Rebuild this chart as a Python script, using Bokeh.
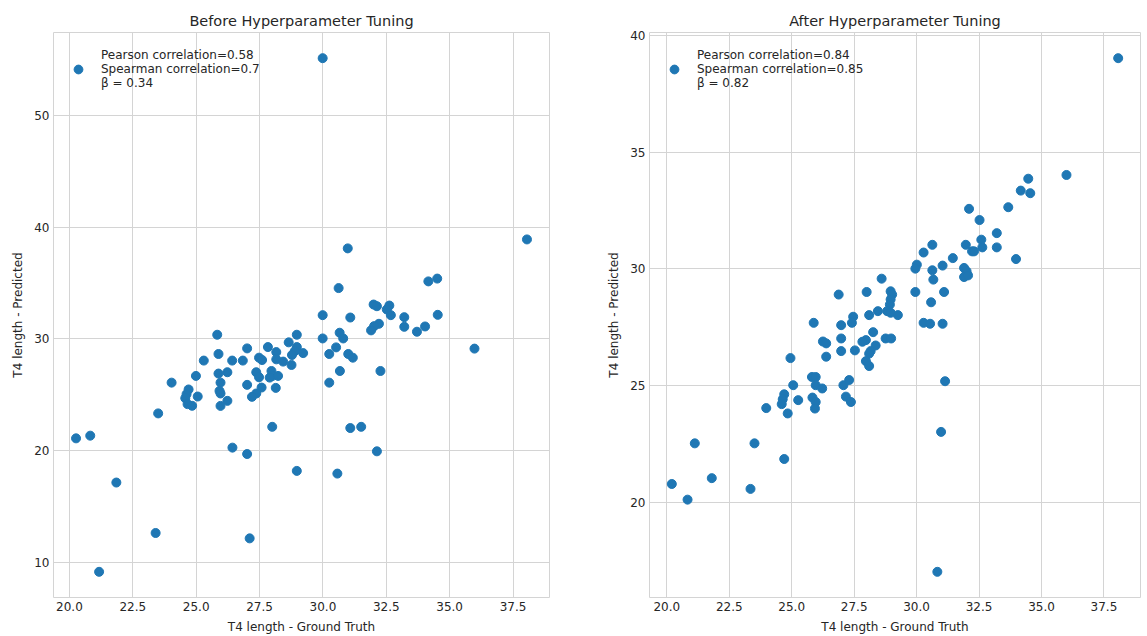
from bokeh.plotting import figure
from bokeh.layouts import row
from bokeh.models import Range1d, FixedTicker, NumeralTickFormatter, Legend, LegendItem
from bokeh.embed import file_html
from bokeh.resources import INLINE

# ---------------- data ----------------
before_truth = [38.05, 30.98, 30.62, 34.16, 34.51, 32.00, 32.13, 32.62, 32.52, 32.68,
                29.99, 31.08, 34.53, 33.21, 33.21, 34.03, 33.71, 32.21, 32.02, 31.90,
                30.66, 30.80, 29.99, 30.52, 30.25, 31.00, 31.18, 30.67, 32.27, 30.25,
                35.98, 25.83, 28.97, 28.65, 27.83, 27.01, 28.97, 28.89, 29.22, 28.78,
                28.16, 28.16, 28.43, 28.76, 27.48, 27.60, 26.84, 26.42, 25.88, 25.30,
                27.97, 28.01, 28.23, 27.90, 27.37, 27.48, 27.01, 28.14, 27.58, 27.37,
                27.20, 26.23, 25.88, 25.96, 25.92, 25.96, 26.23, 25.96, 24.99, 24.03,
                24.70, 24.62, 24.57, 25.06, 24.66, 24.84, 23.50, 20.26, 20.82, 28.00,
                31.08, 31.51, 26.43, 27.01, 32.13, 28.97, 30.57, 21.85, 23.40, 27.11,
                21.17, 29.99]
before_pred = [38.90, 38.10, 34.55, 35.15, 35.40, 33.08, 32.93, 32.99, 32.64, 32.13,
               32.13, 31.92, 32.16, 31.95, 31.09, 31.12, 30.65, 31.36, 31.15, 30.77,
               30.56, 30.05, 30.05, 29.25, 28.66, 28.66, 28.33, 27.14, 27.14, 26.10,
               29.14, 30.38, 30.38, 29.70, 29.28, 29.16, 29.28, 28.92, 28.74, 28.57,
               28.83, 28.18, 27.98, 27.68, 28.33, 28.12, 28.07, 28.07, 28.66, 28.07,
               27.14, 26.70, 26.70, 26.55, 27.03, 26.58, 25.90, 25.63, 25.66, 25.13,
               24.83, 27.03, 26.91, 26.10, 25.36, 25.13, 24.47, 24.02, 26.70, 26.10,
               25.49, 25.07, 24.71, 24.86, 24.18, 24.03, 23.35, 21.12, 21.36, 22.15,
               22.04, 22.15, 20.29, 19.72, 19.96, 18.21, 17.97, 17.17, 12.66, 12.18,
               9.19, 55.10]

after_truth = [38.07, 36.00, 34.47, 34.17, 34.55, 33.67, 32.10, 32.52, 33.21, 32.59,
               32.63, 33.21, 31.97, 32.22, 32.30, 33.98, 31.45, 30.63, 30.28, 30.01,
               29.95, 31.04, 30.63, 30.67, 31.90, 32.00, 31.90, 32.06, 28.60, 26.88,
               28.00, 28.96, 29.02, 28.96, 28.93, 29.95, 31.10, 30.58, 28.45, 28.82,
               28.96, 29.25, 28.10, 27.46, 27.41, 26.98, 30.28, 30.54, 31.04, 28.26,
               26.98, 27.97, 27.83, 28.76, 28.98, 28.36, 28.16, 28.10, 26.98, 27.53,
               27.97, 28.10, 25.88, 26.25, 26.38, 26.38, 24.95, 25.81, 25.96, 25.96,
               26.22, 25.06, 27.07, 27.30, 27.17, 27.37, 24.70, 24.64, 24.60, 25.26,
               25.83, 25.96, 25.93, 23.98, 24.84, 21.12, 23.51, 24.70, 20.20, 20.83,
               21.80, 23.35, 30.98, 30.83, 31.14]
after_pred = [39.02, 34.02, 33.86, 33.35, 33.24, 32.64, 32.57, 32.09, 31.53, 31.25,
              30.92, 30.92, 31.03, 30.75, 30.75, 30.42, 30.46, 31.03, 30.70, 30.18,
              30.01, 30.14, 29.94, 29.54, 30.04, 29.90, 29.65, 29.72, 29.58, 28.90,
              29.01, 29.04, 28.90, 28.69, 28.47, 29.01, 29.01, 28.57, 28.19, 28.19,
              28.12, 28.02, 28.02, 27.95, 27.69, 27.59, 27.69, 27.65, 27.65, 27.29,
              27.02, 26.95, 26.88, 27.02, 27.02, 26.72, 26.48, 26.37, 26.48, 26.51,
              26.05, 25.84, 27.69, 26.89, 26.81, 26.24, 26.18, 25.37, 25.37, 25.02,
              24.88, 25.02, 25.02, 25.24, 24.53, 24.30, 24.63, 24.42, 24.21, 24.38,
              24.49, 24.30, 24.02, 24.04, 23.81, 22.53, 22.53, 21.86, 20.79, 20.12,
              21.04, 20.58, 23.02, 17.03, 25.19]

titles = ["Before Hyperparameter Tuning", "After Hyperparameter Tuning"]
legend_labels = ["Pearson correlation=0.58\nSpearman correlation=0.7\nβ = 0.34",
                 "Pearson correlation=0.84\nSpearman correlation=0.85\nβ = 0.82"]
x_ticks = [20.0, 22.5, 25.0, 27.5, 30.0, 32.5, 35.0, 37.5]
y_ticks_before = [10, 20, 30, 40, 50]
y_ticks_after = [20, 25, 30, 35, 40]
x_label = "T4 length - Ground Truth"
y_label = "T4 length - Predicted"

FONT = "DejaVu Sans"
TXT = "#262626"
GRID = "#d4d4d4"
BLUE = "#1f77b4"


def padded(vals):
    lo, hi = min(vals), max(vals)
    pad = 0.05 * (hi - lo)
    return Range1d(lo - pad, hi + pad)


def make_panel(xs, ys, title, label, yticks, width, mbl, mbr):
    p = figure(width=width, height=636, output_backend="svg", toolbar_location=None,
               x_range=padded(xs), y_range=padded(ys),
               min_border_left=mbl, min_border_right=mbr,
               min_border_top=32, min_border_bottom=37)
    p.title.text = title
    p.title.align = "center"
    p.title.text_font = FONT
    p.title.text_font_size = "14.5px"
    p.title.text_font_style = "normal"
    p.title.text_color = TXT
    p.title.offset = 0
    p.title.standoff = 7

    r = p.scatter(xs, ys, size=9, color=BLUE, line_color=BLUE)

    p.xaxis.ticker = FixedTicker(ticks=x_ticks)
    p.xaxis.formatter = NumeralTickFormatter(format="0.0")
    p.yaxis.ticker = FixedTicker(ticks=yticks)
    p.xaxis.axis_label = x_label
    p.yaxis.axis_label = y_label
    for ax in (p.xaxis, p.yaxis):
        ax.axis_line_color = None
        ax.major_tick_line_color = None
        ax.minor_tick_line_color = None
        ax.major_tick_out = 0
        ax.major_tick_in = 0
        ax.major_label_text_font = FONT
        ax.major_label_text_font_size = "12px"
        ax.major_label_text_color = TXT
        ax.axis_label_text_font = FONT
        ax.axis_label_text_font_size = "12px"
        ax.axis_label_text_font_style = "normal"
        ax.axis_label_text_color = TXT
        ax.major_label_standoff = 4
        ax.axis_label_standoff = 6

    p.xgrid.grid_line_color = GRID
    p.ygrid.grid_line_color = GRID
    p.outline_line_color = GRID
    p.outline_line_width = 1
    p.background_fill_color = "white"
    p.border_fill_color = "white"

    leg = Legend(items=[LegendItem(label=label, renderers=[r])],
                 location=(14, 507), margin=0, padding=0,
                 glyph_width=22, glyph_height=22, label_standoff=12,
                 label_text_font=FONT, label_text_font_size="12px",
                 label_text_color=TXT, label_text_line_height=1.5,
                 background_fill_alpha=0, border_line_color=None)
    p.add_layout(leg)
    return p


p1 = make_panel(before_truth, before_pred, titles[0], legend_labels[0], y_ticks_before, 600, 53, 51)
p2 = make_panel(after_truth, after_pred, titles[1], legend_labels[1], y_ticks_after, 546, 49, 6)

layout = row(p1, p2)
open("out.html", "w").write(file_html(layout, INLINE))
